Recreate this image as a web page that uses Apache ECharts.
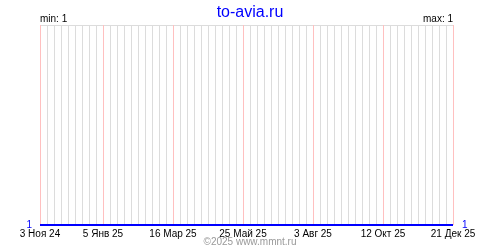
<!DOCTYPE html>
<html><head><meta charset="utf-8">
<script src="https://cdn.jsdelivr.net/npm/echarts@6/dist/echarts.min.js"></script>
<style>html,body{margin:0;padding:0;background:#fff}#c{width:500px;height:250px}</style>
</head><body><div id="c"></div>
<script>
var weekValues = [1,1,1,1,1,1,1,1,1,1, 1,1,1,1,1,1,1,1,1,1, 1,1,1,1,1,1,1,1,1,1,
                  1,1,1,1,1,1,1,1,1,1, 1,1,1,1,1,1,1,1,1,1, 1,1,1,1,1,1,1,1,1,1];
var tickIndex = [0, 9, 19, 29, 39, 49, 59];
var tickLabels = ['3 Ноя 24', '5 Янв 25', '16 Мар 25', '25 Май 25', '3 Авг 25', '12 Окт 25', '21 Дек 25'];
var minText = 'min: 1', maxText = 'max: 1';
var titleText = 'to-avia.ru', footerText = '©2025 www.mmnt.ru';

var weeks = weekValues.map(function(v, i){ return String(i); });
var FONT = '"Liberation Sans", Arial, sans-serif';
function isTick(i){ return tickIndex.indexOf(i) >= 0; }
var lineColors = weeks.map(function(w, i){ return isTick(i) ? '#ffc0c0' : '#dcdcdc'; });
var chart = echarts.init(document.getElementById('c'), null, {renderer:'canvas'});
chart.setOption({
  animation: false,
  title: {text: titleText, left: 'center', top: 0, textStyle: {color:'#0000ff', fontSize:16, fontWeight:'normal', fontFamily: FONT}},
  grid: {left: 40, right: 47, top: 25, bottom: 25, containLabel: false},
  xAxis: {
    type: 'category', data: weeks, boundaryGap: false, position: 'bottom',
    axisLine: {show:false}, axisTick: {show:false, interval: 0},
    axisLabel: {
      interval: function(i){ return isTick(i); },
      formatter: function(v){ var k = tickIndex.indexOf(Number(v)); return k >= 0 ? tickLabels[k] : ''; },
      color:'#000', fontSize:10, fontFamily: FONT, margin: 4, hideOverlap: false, showMinLabel: true, showMaxLabel: true
    },
    splitLine: {show:true, interval: 0, lineStyle:{color: lineColors, width:1}}
  },
  yAxis: [
    {type:'value', min:1, max:2, interval:1, position:'left',
     axisLine:{show:false}, axisTick:{show:false},
     axisLabel:{color:'#0000ff', fontSize:10, fontFamily: FONT, margin:8, formatter:function(v){return v===1?'1':'';}},
     splitLine:{show:true, lineStyle:{color:'#dcdcdc', width:1}}},
    {type:'value', min:1, max:2, interval:1, position:'right',
     axisLine:{show:false}, axisTick:{show:false},
     axisLabel:{color:'#0000ff', fontSize:10, fontFamily: FONT, margin:9, formatter:function(v){return v===1?'1':'';}},
     splitLine:{show:false}}
  ],
  series: [{
    type:'line', data: weekValues, symbol:'none', z: 5,
    lineStyle:{color:'#0000ff', width:2}
  }],
  graphic: [
    {type:'text', left: 40, top: 14, style:{text: minText, fill:'#000', font:'10px ' + FONT}},
    {type:'text', right: 47, top: 14, style:{text: maxText, fill:'#000', font:'10px ' + FONT, textAlign:'right'}},
    {type:'text', left: 'center', top: 237, style:{text: footerText, fill:'#999', font:'10px ' + FONT}}
  ]
});
</script></body></html>
